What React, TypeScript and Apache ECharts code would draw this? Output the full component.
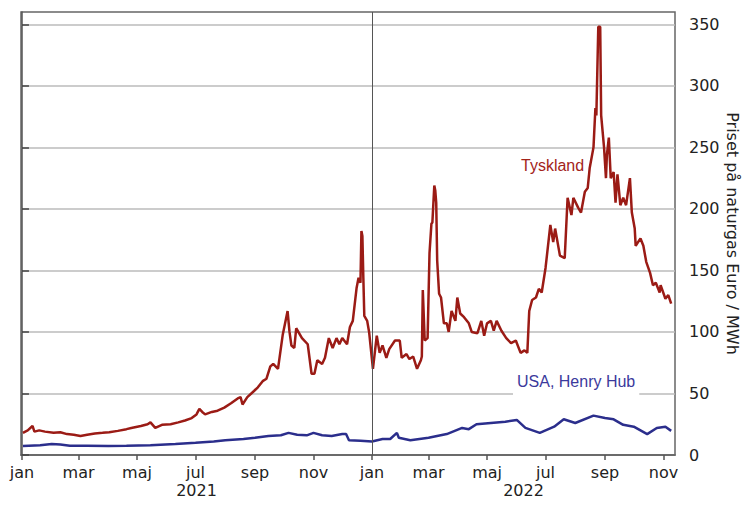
import React, { useEffect, useRef } from 'react';
import * as echarts from 'echarts';

const monthNames = ['jan', 'feb', 'mar', 'apr', 'maj', 'jun', 'jul', 'aug', 'sep', 'okt', 'nov', 'dec'];
const monthTicks = [
  '2021-01-01', '2021-03-01', '2021-05-01', '2021-07-01', '2021-09-01', '2021-11-01',
  '2022-01-01', '2022-03-01', '2022-05-01', '2022-07-01', '2022-09-01', '2022-11-01',
];
const yearLabelDates = ['2021-07-02', '2022-06-08'];
const yTicks = [0, 50, 100, 150, 200, 250, 300, 350];
const yearDivider = '2022-01-01';
const axisStart = '2020-12-31';
const axisEnd = '2022-11-13';

const tyskland: [string, number][] = [
  ['2021-01-02', 18], ['2021-01-07', 20], ['2021-01-12', 23.6], ['2021-01-14', 19], ['2021-01-19', 20],
  ['2021-01-25', 19], ['2021-02-03', 18], ['2021-02-10', 18.5], ['2021-02-17', 17], ['2021-02-24', 16.5],
  ['2021-03-03', 15.5], ['2021-03-10', 16.5], ['2021-03-18', 17.5], ['2021-03-26', 18], ['2021-04-02', 18.5],
  ['2021-04-11', 19.6], ['2021-04-20', 21], ['2021-04-25', 22], ['2021-05-05', 23.6], ['2021-05-12', 25],
  ['2021-05-15', 26.5], ['2021-05-20', 22], ['2021-05-27', 24.5], ['2021-06-05', 25], ['2021-06-13', 26.5],
  ['2021-06-20', 28], ['2021-06-27', 30], ['2021-07-02', 33], ['2021-07-05', 37.5], ['2021-07-08', 35],
  ['2021-07-11', 33], ['2021-07-18', 35], ['2021-07-24', 36], ['2021-07-31', 38.5], ['2021-08-07', 42],
  ['2021-08-14', 46], ['2021-08-17', 47], ['2021-08-19', 41], ['2021-08-24', 47], ['2021-08-31', 52],
  ['2021-09-04', 55], ['2021-09-09', 60], ['2021-09-13', 62], ['2021-09-17', 72], ['2021-09-20', 74],
  ['2021-09-25', 70], ['2021-09-30', 98], ['2021-10-05', 117], ['2021-10-07', 100], ['2021-10-09', 89],
  ['2021-10-12', 87], ['2021-10-14', 103], ['2021-10-20', 95], ['2021-10-26', 90], ['2021-10-30', 66],
  ['2021-11-02', 66], ['2021-11-05', 77], ['2021-11-10', 74], ['2021-11-13', 79], ['2021-11-17', 95],
  ['2021-11-21', 87], ['2021-11-25', 95], ['2021-11-28', 90], ['2021-12-01', 95], ['2021-12-06', 90],
  ['2021-12-09', 104], ['2021-12-12', 109], ['2021-12-16', 136], ['2021-12-18', 144], ['2021-12-20', 140],
  ['2021-12-21', 182], ['2021-12-22', 178], ['2021-12-23', 144], ['2021-12-24', 113], ['2021-12-27', 109],
  ['2021-12-29', 100], ['2022-01-02', 70], ['2022-01-06', 97], ['2022-01-09', 83], ['2022-01-12', 89],
  ['2022-01-16', 79], ['2022-01-19', 86], ['2022-01-25', 93], ['2022-01-30', 93], ['2022-02-01', 79],
  ['2022-02-06', 82], ['2022-02-09', 78], ['2022-02-13', 80], ['2022-02-17', 70], ['2022-02-21', 77],
  ['2022-02-22', 80], ['2022-02-23', 134], ['2022-02-25', 93], ['2022-02-28', 95], ['2022-03-02', 164],
  ['2022-03-04', 188], ['2022-03-05', 189], ['2022-03-07', 219], ['2022-03-08', 215], ['2022-03-09', 205],
  ['2022-03-10', 158], ['2022-03-12', 131], ['2022-03-14', 128], ['2022-03-17', 107], ['2022-03-20', 107],
  ['2022-03-22', 100], ['2022-03-25', 117], ['2022-03-29', 109], ['2022-03-31', 128], ['2022-04-03', 115],
  ['2022-04-07', 112], ['2022-04-12', 107], ['2022-04-15', 100], ['2022-04-21', 99], ['2022-04-25', 109],
  ['2022-04-28', 97], ['2022-05-01', 107], ['2022-05-05', 109], ['2022-05-08', 101], ['2022-05-11', 109],
  ['2022-05-16', 101], ['2022-05-21', 95], ['2022-05-26', 91], ['2022-05-31', 93], ['2022-06-05', 83],
  ['2022-06-09', 85], ['2022-06-12', 83], ['2022-06-14', 117], ['2022-06-17', 126], ['2022-06-21', 128],
  ['2022-06-24', 135], ['2022-06-27', 132], ['2022-07-01', 152], ['2022-07-06', 187], ['2022-07-09', 173],
  ['2022-07-11', 184], ['2022-07-16', 162], ['2022-07-21', 160], ['2022-07-24', 209], ['2022-07-28', 195],
  ['2022-07-30', 209], ['2022-08-04', 201], ['2022-08-07', 197], ['2022-08-11', 214], ['2022-08-14', 217],
  ['2022-08-16', 233], ['2022-08-20', 250], ['2022-08-22', 282], ['2022-08-23', 276], ['2022-08-25', 348],
  ['2022-08-27', 348], ['2022-08-28', 276], ['2022-08-31', 250], ['2022-09-02', 225], ['2022-09-03', 244],
  ['2022-09-05', 258], ['2022-09-07', 225], ['2022-09-10', 230], ['2022-09-12', 205], ['2022-09-14', 228],
  ['2022-09-17', 203], ['2022-09-20', 209], ['2022-09-23', 203], ['2022-09-27', 225], ['2022-09-29', 197],
  ['2022-10-02', 184], ['2022-10-03', 170], ['2022-10-08', 176], ['2022-10-11', 170], ['2022-10-14', 157],
  ['2022-10-18', 148], ['2022-10-21', 138], ['2022-10-24', 140], ['2022-10-28', 132], ['2022-10-29', 138],
  ['2022-11-03', 127], ['2022-11-06', 130], ['2022-11-09', 123],
];

const henryHub: [string, number][] = [
  ['2021-01-02', 7.3], ['2021-01-20', 8], ['2021-02-01', 9], ['2021-02-10', 8.5], ['2021-02-20', 7.6],
  ['2021-03-10', 7.5], ['2021-04-01', 7.3], ['2021-04-20', 7.5], ['2021-05-15', 8], ['2021-06-10', 9],
  ['2021-07-01', 10], ['2021-07-20', 11], ['2021-08-01', 12], ['2021-08-20', 13], ['2021-09-01', 14],
  ['2021-09-15', 15.5], ['2021-09-28', 16], ['2021-10-06', 18], ['2021-10-15', 16.5], ['2021-10-25', 16],
  ['2021-11-01', 18], ['2021-11-10', 16], ['2021-11-20', 15.5], ['2021-12-01', 17], ['2021-12-05', 17],
  ['2021-12-08', 12], ['2021-12-20', 11.5], ['2022-01-01', 11], ['2022-01-12', 13], ['2022-01-20', 13],
  ['2022-01-27', 18], ['2022-01-29', 14], ['2022-02-10', 12], ['2022-03-01', 14], ['2022-03-20', 17],
  ['2022-04-05', 22], ['2022-04-12', 21], ['2022-04-20', 25], ['2022-05-05', 26], ['2022-05-20', 27],
  ['2022-06-01', 28.5], ['2022-06-10', 22], ['2022-06-25', 18], ['2022-07-10', 23], ['2022-07-20', 29],
  ['2022-08-01', 26], ['2022-08-20', 32], ['2022-09-01', 30], ['2022-09-10', 29], ['2022-09-20', 24.5],
  ['2022-10-01', 23], ['2022-10-15', 17], ['2022-10-25', 22], ['2022-11-03', 23], ['2022-11-09', 19.6],
];

const DAY = 86400000;
const START = Date.parse('2021-01-01');
const toDay = (d: string) => (Date.parse(d) - START) / DAY;
const dayToDate = (v: number) => new Date(START + Math.round(v) * DAY);

export default function App() {
  const ref = useRef<HTMLDivElement>(null);

  useEffect(() => {
    if (!ref.current) return;
    const chart = echarts.init(ref.current, null, { renderer: 'svg' });
    const tickFont = { fontSize: 16, fontFamily: 'DejaVu Sans', color: '#222' };
    chart.setOption({
      animation: false,
      backgroundColor: '#fff',
      grid: {
        left: 21, right: 67, top: 12, bottom: 52,
        containLabel: false,
        outerBoundsMode: 'none',
        show: true, borderColor: '#666', borderWidth: 1.5, backgroundColor: 'transparent',
      },
      xAxis: [
        {
          type: 'value',
          min: toDay(axisStart),
          max: toDay(axisEnd),
          position: 'bottom',
          axisLine: { show: true, lineStyle: { color: '#555', width: 1.5 } },
          axisTick: { show: true, customValues: monthTicks.map(toDay), length: 5, lineStyle: { color: '#555', width: 1.5 } },
          axisLabel: {
            ...tickFont,
            margin: 9,
            customValues: monthTicks.map(toDay),
            formatter: (v: number) => monthNames[dayToDate(v).getUTCMonth()],
          },
          splitLine: { show: false },
        },
        {
          type: 'value',
          min: toDay(axisStart),
          max: toDay(axisEnd),
          position: 'bottom',
          offset: 18,
          axisLine: { show: false },
          axisTick: { show: false },
          axisLabel: {
            ...tickFont,
            margin: 9,
            customValues: yearLabelDates.map(toDay),
            formatter: (v: number) => String(dayToDate(v).getUTCFullYear()),
          },
          splitLine: { show: false },
        },
      ],
      yAxis: {
        type: 'value',
        position: 'right',
        min: 0,
        max: 360,
        axisLine: { show: true, lineStyle: { color: '#555', width: 1.5 } },
        axisTick: { show: true, customValues: yTicks, length: 7, lineStyle: { color: '#444', width: 1.5 } },
        axisLabel: { ...tickFont, margin: 14, customValues: yTicks },
        splitLine: { show: true, lineStyle: { color: '#bbb', width: 1.5 } },
        name: 'Priset på naturgas Euro / MWh',
        nameLocation: 'middle',
        nameRotate: -90,
        nameGap: 49,
        nameMoveOverlap: false,
        nameTextStyle: { fontSize: 16, fontFamily: 'DejaVu Sans', color: '#222' },
      },
      series: [
        {
          type: 'line',
          name: 'USA, Henry Hub',
          data: henryHub.map(([d, v]) => [toDay(d), v]),
          showSymbol: false,
          lineStyle: { color: '#2b2e8c', width: 2.5 },
          itemStyle: { color: '#2b2e8c' },
          z: 3,
          markLine: {
            silent: true,
            symbol: 'none',
            label: { show: false },
            lineStyle: { color: '#555', width: 1, type: 'solid' },
            data: [{ xAxis: toDay(yearDivider) }],
          },
        },
        {
          type: 'line',
          name: 'Tyskland',
          data: tyskland.map(([d, v]) => [toDay(d), v]),
          showSymbol: false,
          lineStyle: { color: '#9b1b15', width: 2.5 },
          itemStyle: { color: '#9b1b15' },
          z: 4,
        },
      ],
      graphic: [
        {
          type: 'text',
          left: 518,
          top: 155,
          z: 10,
          style: {
            text: 'Tyskland',
            fill: '#a3231a',
            font: '16px "Liberation Sans", Arial, sans-serif',
            backgroundColor: '#fff',
            padding: [2, 3, 2, 3],
          },
        },
        {
          type: 'text',
          left: 513,
          top: 370,
          z: 10,
          style: {
            text: 'USA, Henry Hub',
            fill: '#3b3a9c',
            font: '16px "Liberation Sans", Arial, sans-serif',
            backgroundColor: '#fff',
            padding: [3, 4, 8, 4],
          },
        },
      ],
    });
    return () => chart.dispose();
  }, []);

  return <div ref={ref} style={{ width: 742, height: 507, position: 'absolute', left: 0, top: 0 }} />;
}
